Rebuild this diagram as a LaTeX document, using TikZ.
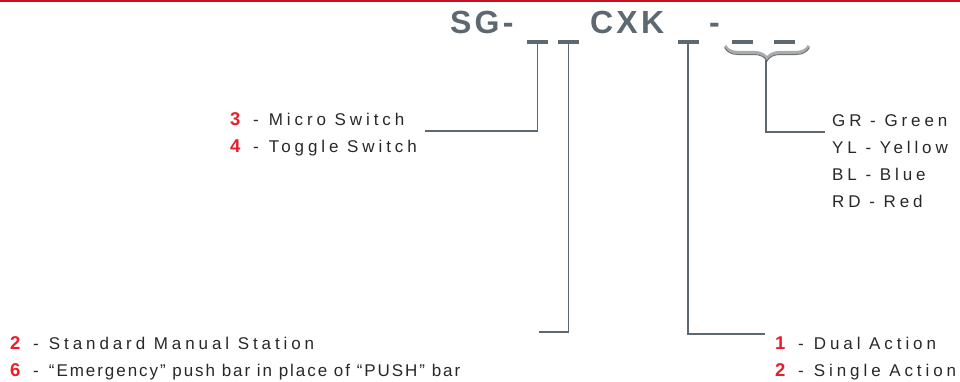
\documentclass[tikz,border=0pt]{standalone}
\usepackage{fontspec}
\usepackage{xcolor}
\usetikzlibrary{positioning,decorations.pathreplacing}
\newfontfamily\lblfont[LetterSpace=23]{Liberation Sans}
\newfontfamily\emfont[LetterSpace=11.5]{Liberation Sans}
\newfontfamily\ttlfont[LetterSpace=10]{Liberation Sans}
\definecolor{slate}{RGB}{93,104,112}
\definecolor{topred}{RGB}{200,16,30}
\definecolor{numred}{RGB}{232,30,40}
\definecolor{txtgray}{RGB}{40,40,40}
\newcommand{\opt}[1]{\textcolor{numred}{\bfseries\fontsize{18.5}{20}\selectfont #1}\hspace{4pt} - \hspace{1.5pt}}

\begin{document}
\begin{tikzpicture}[x=1pt,y=-1pt,
  ttl/.style={font=\ttlfont\bfseries\fontsize{32}{34}\selectfont,text=slate,
              inner sep=0pt,anchor=base west},
  lbl/.style={font=\lblfont\fontsize{17}{20}\selectfont,text=txtgray,
              inner sep=0pt,anchor=base west},
  bar/.style={rectangle,fill=slate,minimum width=21pt,minimum height=3.5pt,inner sep=0pt},
  lead/.style={draw=slate,line width=1.7pt},
  brc/.style={decorate,decoration={brace,mirror,amplitude=13pt}}
]
\useasboundingbox (0,0) rectangle (960,381);
\fill[topred] (0,0) rectangle (960,1.5);

% part number
\node[ttl] (sg) at (450,33.5) {SG-};
\node[ttl] (cxk) at (590,33.5) {CXK};
\node[ttl] (dash) at (709,33.5) {-};
\node[bar] (u1) at (537.5,42) {};
\node[bar] (u2) at (568.5,42) {};
\node[bar] (u3) at (688,42) {};
\node[bar] (u4) at (742.5,42) {};
\node[bar] (u5) at (784.5,42) {};
\draw[brc,draw=slate!55,line width=3.2pt] (725,46) -- (809,46);
\draw[brc,draw=black!55,line width=1pt] (725,48) -- (809,48);
\coordinate (tip) at (766,60);

% switch type
\node[lbl] (micro) at (230,125) {\opt{3}Micro Switch};
\node[lbl] (toggle) at (230,152) {\opt{4}Toggle Switch};
\coordinate (j1) at (425,131);
\draw[lead] (u1.south) |- (j1);

% station type
\node[lbl] (std) at (10,349) {\opt{2}Standard Manual Station};
\node[lbl] (emerg) at (10,376) {\opt{6}{\emfont “Emergency” push bar in place of “PUSH” bar}};
\coordinate (j2) at (539,332);
\draw[lead] (u2.south) |- (j2);

% action
\node[lbl] (dual) at (775,349) {\opt{1}Dual Action};
\node[lbl] (single) at (775,376) {\opt{2}Single Action};
\coordinate (j3) at (765,334);
\draw[lead] (u3.south) |- (j3);

% colour
\node[lbl] (gr) at (832,126) {GR - Green};
\node[lbl] (yl) at (832,153) {YL - Yellow};
\node[lbl] (bl) at (832,180) {BL - Blue};
\node[lbl] (rd) at (832,207) {RD - Red};
\coordinate (j4) at (825,132);
\draw[lead] (tip) |- (j4);
\end{tikzpicture}
\end{document}
